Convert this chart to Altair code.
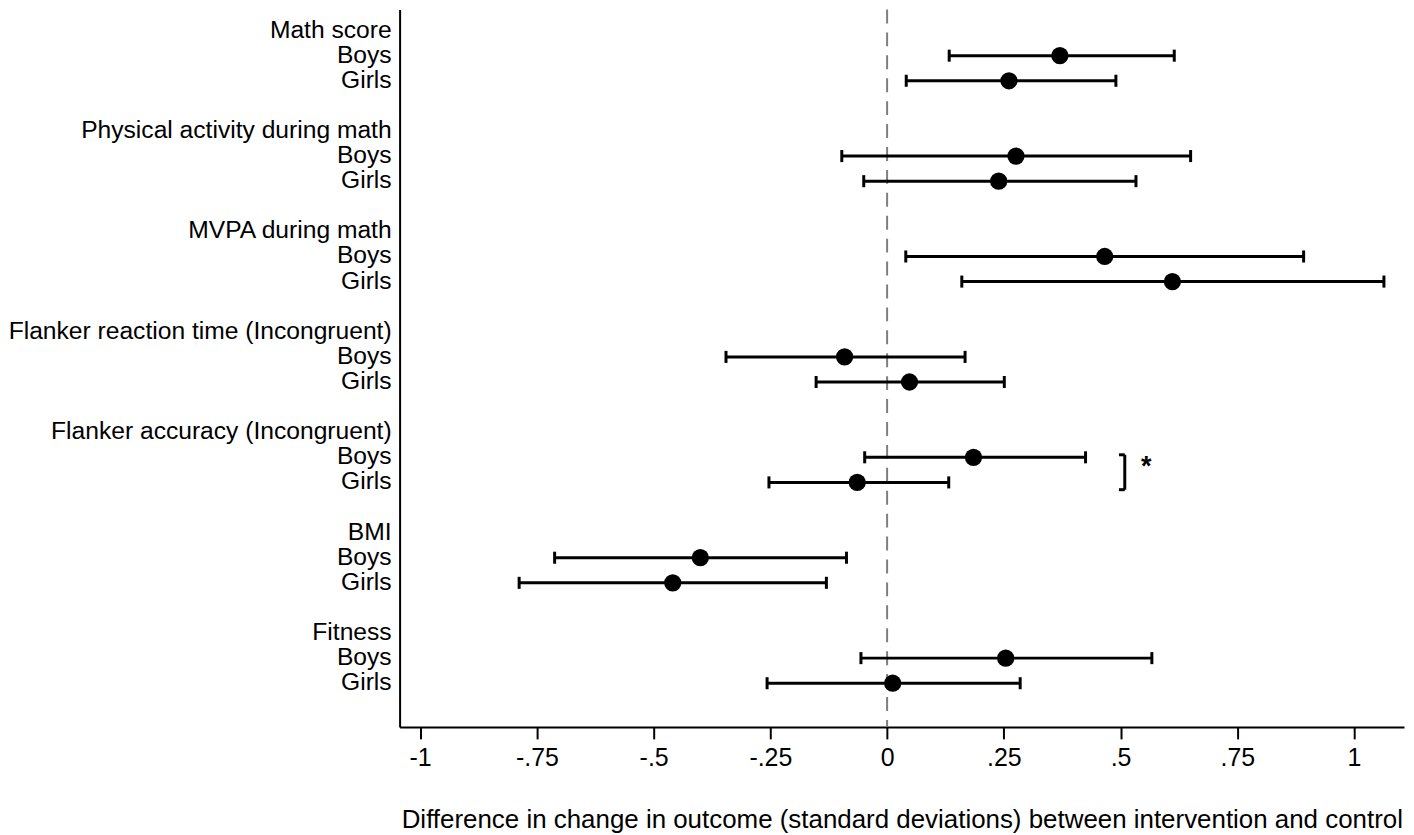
import altair as alt
import pandas as pd

# ---------------- data ----------------
GROUPS = [
    "Math score",
    "Physical activity during math",
    "MVPA during math",
    "Flanker reaction time (Incongruent)",
    "Flanker accuracy (Incongruent)",
    "BMI",
    "Fitness",
]
BOYS_EST = [0.370, 0.276, 0.466, -0.091, 0.185, -0.400, 0.254]
BOYS_LO = [0.133, -0.097, 0.040, -0.345, -0.048, -0.712, -0.056]
BOYS_HI = [0.615, 0.650, 0.892, 0.167, 0.425, -0.087, 0.567]
GIRLS_EST = [0.261, 0.239, 0.611, 0.048, -0.064, -0.459, 0.012]
GIRLS_LO = [0.041, -0.050, 0.160, -0.152, -0.253, -0.788, -0.257]
GIRLS_HI = [0.490, 0.533, 1.064, 0.251, 0.132, -0.130, 0.285]
SUBGROUPS = ["Boys", "Girls"]

TICK_VALUES = [-1, -0.75, -0.5, -0.25, 0, 0.25, 0.5, 0.75, 1]
TICK_LABELS = ["-1", "-.75", "-.5", "-.25", "0", ".25", ".5", ".75", "1"]
X_TITLE = "Difference in change in outcome (standard deviations) between intervention and control"

# significance bracket next to "Flanker accuracy" (data units)
BRACKET_X = 0.509
BRACKET_LEFT = 0.4965
BRACKET_ROWS = [16.9, 18.29]
STAR_X = 0.555
STAR_ROW = 17.4

FONT = "Liberation Sans"

# ---------------- build tables ----------------
est_rows = []
label_rows = []
for g, name in enumerate(GROUPS):
    base = 4 * g
    label_rows.append({"row": base, "label": name})
    for k, (sub, est, lo, hi) in enumerate(
        [
            (SUBGROUPS[0], BOYS_EST[g], BOYS_LO[g], BOYS_HI[g]),
            (SUBGROUPS[1], GIRLS_EST[g], GIRLS_LO[g], GIRLS_HI[g]),
        ]
    ):
        r = base + 1 + k
        label_rows.append({"row": r, "label": sub})
        est_rows.append({"row": r, "est": est, "lo": lo, "hi": hi})

est_df = pd.DataFrame(est_rows)
label_df = pd.DataFrame(label_rows)
zero_df = pd.DataFrame({"x": [0.0]})
bracket_df = pd.DataFrame(
    {
        "x": [BRACKET_X, BRACKET_LEFT, BRACKET_LEFT],
        "x2": [BRACKET_X, BRACKET_X, BRACKET_X],
        "y": [BRACKET_ROWS[0], BRACKET_ROWS[0], BRACKET_ROWS[1]],
        "y2": [BRACKET_ROWS[1], BRACKET_ROWS[0], BRACKET_ROWS[1]],
    }
)
star_df = pd.DataFrame({"x": [STAR_X], "row": [STAR_ROW], "t": ["*"]})

# ---------------- scales / axes ----------------
xscale = alt.Scale(domain=[-1.044, 1.107], nice=False, zero=False)
yscale = alt.Scale(domain=[-0.84, 27.74], nice=False, zero=False, reverse=True)

label_expr = " : ".join(
    f"datum.value === {v} ? '{l}'" for v, l in zip(TICK_VALUES, TICK_LABELS)
) + " : ''"

xaxis = alt.Axis(
    values=TICK_VALUES,
    labelExpr=label_expr,
    title=X_TITLE,
    grid=False,
    tickSize=12,
    tickWidth=2,
    tickColor="black",
    domainColor="black",
    domainWidth=2,
    labelFont=FONT,
    labelFontSize=25,
    labelColor="black",
    labelPadding=7,
    titleFont=FONT,
    titleFontSize=26,
    titleFontWeight="normal",
    titleColor="black",
    titlePadding=36,
)
yaxis = alt.Axis(
    labels=False, ticks=False, title=None, grid=False,
    domainColor="black", domainWidth=2,
)

# ---------------- layers ----------------
zero = alt.Chart(zero_df).mark_rule(
    color="#7f7f7f", strokeWidth=2, strokeDash=[14, 9]
).encode(x=alt.X("x:Q", scale=xscale, axis=xaxis))

bars = alt.Chart(est_df).mark_rule(color="black", strokeWidth=3).encode(
    x=alt.X("lo:Q", scale=xscale, axis=xaxis),
    x2="hi:Q",
    y=alt.Y("row:Q", scale=yscale, axis=yaxis),
)

caps = (
    alt.Chart(est_df)
    .transform_fold(["lo", "hi"], as_=["end", "value"])
    .transform_calculate(y1="datum.row - 0.24", y2="datum.row + 0.24")
    .mark_rule(color="black", strokeWidth=3)
    .encode(
        x=alt.X("value:Q", scale=xscale, axis=xaxis),
        y=alt.Y("y1:Q", scale=yscale, axis=yaxis),
        y2="y2:Q",
    )
)

points = alt.Chart(est_df).mark_circle(size=300, color="black", opacity=1).encode(
    x=alt.X("est:Q", scale=xscale, axis=xaxis),
    y=alt.Y("row:Q", scale=yscale, axis=yaxis),
)

labels = alt.Chart(label_df).mark_text(
    align="right", baseline="middle", font=FONT, fontSize=24.7, color="black"
).encode(
    x=alt.value(-8),
    y=alt.Y("row:Q", scale=yscale, axis=yaxis),
    text="label:N",
)

bracket = alt.Chart(bracket_df).mark_rule(color="black", strokeWidth=3).encode(
    x=alt.X("x:Q", scale=xscale, axis=xaxis),
    x2="x2:Q",
    y=alt.Y("y:Q", scale=yscale, axis=yaxis),
    y2="y2:Q",
)

star = alt.Chart(star_df).mark_text(
    font=FONT, fontSize=27, fontWeight="bold", color="black", baseline="middle"
).encode(
    x=alt.X("x:Q", scale=xscale, axis=xaxis),
    y=alt.Y("row:Q", scale=yscale, axis=yaxis),
    text="t:N",
)

chart = (
    alt.layer(zero, bars, caps, points, labels, bracket, star)
    .properties(
        width=1008,
        height=720,
        autosize=alt.AutoSizeParams(type="none"),
        padding={"left": 393, "top": 0, "right": 2, "bottom": 107},
        background="white",
    )
    .configure_view(stroke=None)
)

chart.save("out.html", embed_options={"renderer": "svg", "actions": False})
